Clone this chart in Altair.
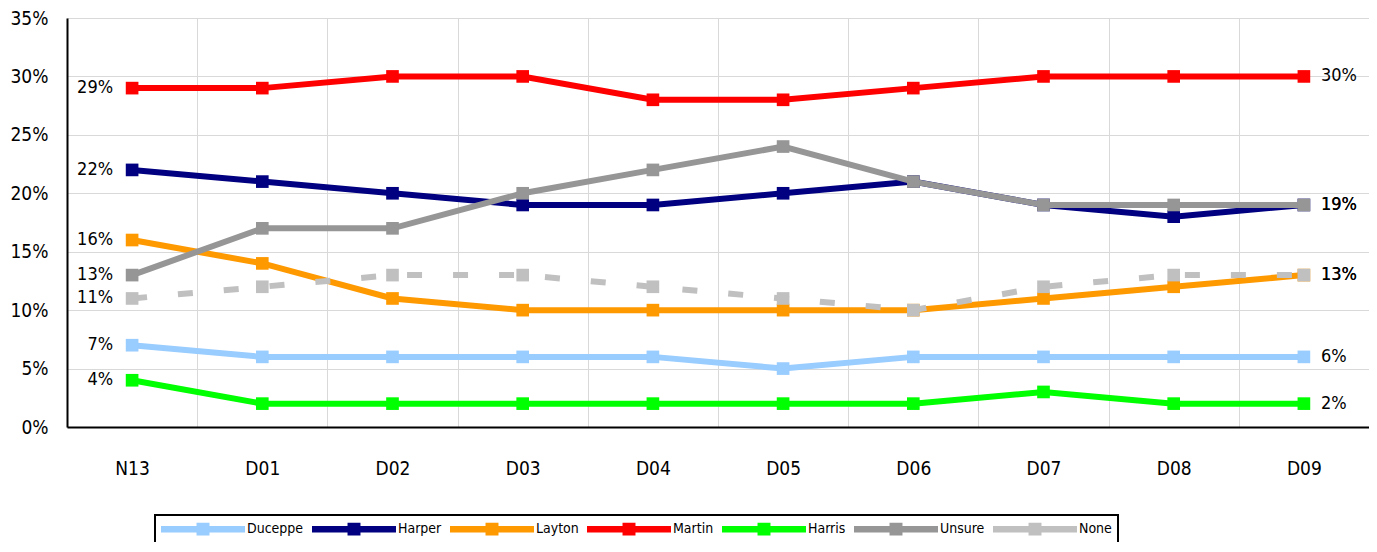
import altair as alt
import pandas as pd

categories = ["N13", "D01", "D02", "D03", "D04", "D05", "D06", "D07", "D08", "D09"]
series = ["Duceppe", "Harper", "Layton", "Martin", "Harris", "Unsure", "None"]
colors = ["#99CCFF", "#000080", "#FF9900", "#FF0000", "#00FF00", "#969696", "#C0C0C0"]

duceppe = [7, 6, 6, 6, 6, 5, 6, 6, 6, 6]
harper = [22, 21, 20, 19, 19, 20, 21, 19, 18, 19]
layton = [16, 14, 11, 10, 10, 10, 10, 11, 12, 13]
martin = [29, 29, 30, 30, 28, 28, 29, 30, 30, 30]
harris = [4, 2, 2, 2, 2, 2, 2, 3, 2, 2]
unsure = [13, 17, 17, 20, 22, 24, 21, 19, 19, 19]
none_ = [11, 12, 13, 13, 12, 11, 10, 12, 13, 13]

values = [duceppe, harper, layton, martin, harris, unsure, none_]

rows = []
for s, vals in zip(series, values):
    for c, v in zip(categories, vals):
        rows.append({"date": c, "series": s, "value": v, "label": f"{v}%"})
df = pd.DataFrame(rows)

FONT = "'Liberation Sans Narrow', 'DejaVu Sans Condensed', 'Open Sans', sans-serif"

x_enc = alt.X(
    "date:N",
    sort=categories,
    scale=alt.Scale(type="band", domain=categories, paddingInner=0, paddingOuter=0),
    axis=alt.Axis(
        title=None, tickBand="extent", grid=True, ticks=False, labelAngle=0,
        labelPadding=32, domainColor="black", domainWidth=2,
        gridColor="#D9D9D9", gridWidth=1, labelFontSize=19, labelColor="black",
    ),
)
y_enc = alt.Y(
    "value:Q",
    scale=alt.Scale(domain=[0, 35], nice=False),
    axis=alt.Axis(
        title=None, values=list(range(0, 36, 5)), labelExpr="datum.value + '%'",
        ticks=False, domainColor="black", domainWidth=2, gridColor="#D9D9D9",
        gridWidth=1, labelFontSize=19, labelPadding=19, labelColor="black",
    ),
)

legend_path = ("M-1,-0.4H9.5V0.4H-1Z M3.44,-0.8H5.06V0.8H3.44Z "
               "M0,3.2H0.01V3.201H0Z")

color_enc = alt.Color(
    "series:N",
    scale=alt.Scale(domain=series, range=colors),
    legend=alt.Legend(
        title=None, orient="none", legendX=88, legendY=497,
        direction="horizontal", columns=7, symbolType=legend_path,
        symbolSize=256, symbolStrokeWidth=0, labelFontSize=14,
        labelOffset=70, columnPadding=8, padding=6, strokeColor="black",
        labelColor="black",
    ),
)

layers = []
for s, c in zip(series, colors):
    sub = df[df["series"] == s]
    base = alt.Chart(sub)
    if s == "None":
        line = base.mark_line(strokeWidth=6, strokeDash=[15, 31], color=c)
    else:
        line = base.mark_line(strokeWidth=6, color=c)
    layers.append(line.encode(x=x_enc, y=y_enc))
    pts = base.mark_point(shape="square", filled=True, size=160, opacity=1)
    layers.append(pts.encode(x=x_enc, y=y_enc, color=color_enc))

left = alt.Chart(df[df["date"] == categories[0]]).mark_text(
    align="right", baseline="middle", dx=-19, fontSize=18, color="black"
).encode(x=x_enc, y=y_enc, text="label:N")
right = alt.Chart(df[df["date"] == categories[-1]]).mark_text(
    align="left", baseline="middle", dx=17, fontSize=18, color="black"
).encode(x=x_enc, y=y_enc, text="label:N")
layers += [left, right]

chart = alt.layer(*layers).properties(
    width=1302, height=409,
    autosize=alt.AutoSizeParams(type="none"),
    padding={"left": 59, "top": 10, "right": 0, "bottom": 115},
).configure(font=FONT).configure_view(strokeWidth=0).configure_legend(strokeWidth=2)

chart.save("out.html", embed_options={"renderer": "svg", "actions": False})
